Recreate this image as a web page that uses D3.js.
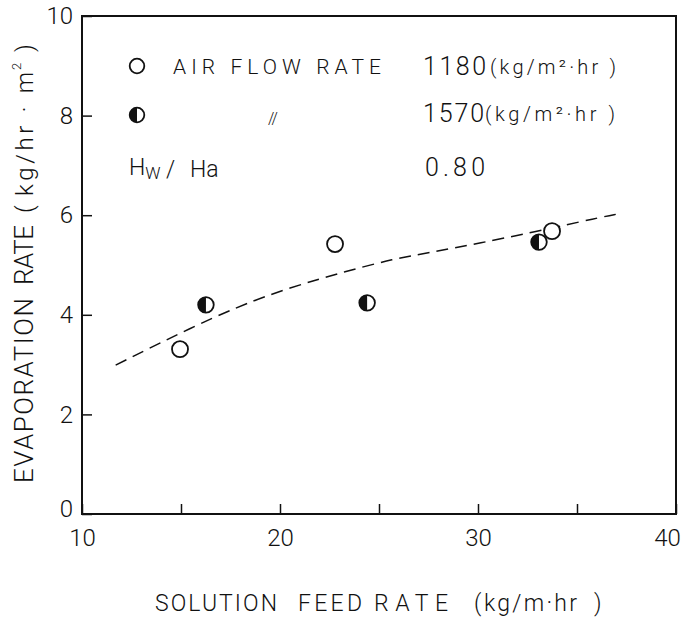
<!DOCTYPE html>
<html>
<head>
<meta charset="utf-8">
<script src="https://cdn.jsdelivr.net/npm/d3@7"></script>
<style>
  body { margin: 0; background: #fff; }
  svg { display: block; }
  text { font-family: Roboto, "Liberation Sans", sans-serif; font-weight: 300; fill: #111; }
</style>
</head>
<body>
<svg id="chart" width="685" height="617"></svg>
<script>
// air flow 1180 kg/m2.hr (open circles)
var lowFeed = [14.95, 22.78, 33.74];
var lowEvap = [3.31, 5.42, 5.68];
// air flow 1570 kg/m2.hr (half filled)
var highFeed = [16.26, 24.4, 33.08];
var highEvap = [4.2, 4.24, 5.46];
// dashed correlation curve
var fitFeed = [11.7, 17.0, 20.4, 23.4, 25.7, 27.7, 30.1, 32.8, 36.2, 37.0];
var fitEvap = [2.99, 4.04, 4.54, 4.88, 5.12, 5.26, 5.44, 5.66, 5.96, 6.02];

var xTicks = [10, 15, 20, 25, 30, 35, 40];
var xTickLabels = ["10", "", "20", "", "30", "", "40"];
var yTicks = [0, 2, 4, 6, 8, 10];

var legendRates = ["1180", "1570"];
var ratioText = "0.80";

var svg = d3.select("#chart"),
    margin = {top: 16, right: 9, bottom: 103, left: 82},
    width = +svg.attr("width") - margin.left - margin.right,
    height = +svg.attr("height") - margin.top - margin.bottom;

var g = svg.append("g").attr("transform", "translate(" + margin.left + "," + margin.top + ")");

var x = d3.scaleLinear().domain([10, 40]).range([0, width]);
var y = d3.scaleLinear().domain([0, 10]).range([height, 0]);

// axes (ticks point inward)
var xAxis = d3.axisBottom(x)
    .tickValues(xTicks)
    .tickSizeInner(-10).tickSizeOuter(0).tickPadding(15)
    .tickFormat(function(d, i) { return xTickLabels[i]; });
var yAxis = d3.axisLeft(y)
    .tickValues(yTicks)
    .tickSizeInner(-10).tickSizeOuter(0).tickPadding(9)
    .tickFormat(d3.format("d"));

var gx = g.append("g")
    .attr("transform", "translate(0," + height + ")")
    .call(xAxis);
var gy = g.append("g").call(yAxis);

[gx, gy].forEach(function(a) {
    a.attr("font-family", null).attr("font-size", 24);
    a.select(".domain").remove();
    a.selectAll(".tick line").attr("stroke", "#111").attr("stroke-width", 1.5);
    a.selectAll(".tick text").attr("fill", "#111");
});
gy.selectAll(".tick text").filter(function(d) { return d === 0; }).attr("dy", "0.1em");
gx.selectAll(".tick text").filter(function(d) { return d === 40; }).attr("dx", -9);

// frame
g.append("rect")
    .attr("width", width)
    .attr("height", height)
    .attr("fill", "none")
    .attr("stroke", "#111")
    .attr("stroke-width", 2);

// dashed curve
var fit = fitFeed.map(function(f, i) { return [f, fitEvap[i]]; });
g.append("path")
    .datum(fit)
    .attr("fill", "none")
    .attr("stroke", "#111")
    .attr("stroke-width", 1.5)
    .attr("stroke-dasharray", "12,7")
    .attr("d", d3.line()
        .x(function(d) { return x(d[0]); })
        .y(function(d) { return y(d[1]); })
        .curve(d3.curveBasis));

var halfArc = d3.arc().innerRadius(0).startAngle(Math.PI).endAngle(2 * Math.PI);

function openMark(sel, r) {
    sel.append("circle").attr("r", r)
        .attr("fill", "#fff").attr("stroke", "#111").attr("stroke-width", 1.8);
}
function halfMark(sel, r) {
    sel.append("circle").attr("r", r)
        .attr("fill", "#fff").attr("stroke", "#111").attr("stroke-width", 1.8);
    sel.append("path").attr("d", halfArc.outerRadius(r)).attr("fill", "#111");
}

var low = lowFeed.map(function(f, i) { return [f, lowEvap[i]]; });
var high = highFeed.map(function(f, i) { return [f, highEvap[i]]; });

g.selectAll(".high")
    .data(high)
    .enter().append("g")
    .attr("class", "high")
    .attr("transform", function(d) { return "translate(" + x(d[0]) + "," + y(d[1]) + ")"; })
    .each(function() { halfMark(d3.select(this), 7.8); });

g.selectAll(".low")
    .data(low)
    .enter().append("g")
    .attr("class", "low")
    .attr("transform", function(d) { return "translate(" + x(d[0]) + "," + y(d[1]) + ")"; })
    .each(function() { openMark(d3.select(this), 8); });

// text helper: stretch text between x0 and x1
function label(parent, str, x0, x1, yy, size) {
    return parent.append("text")
        .attr("x", x0).attr("y", yy)
        .attr("font-size", size)
        .attr("textLength", x1 - x0)
        .attr("lengthAdjust", "spacing")
        .text(str);
}

// legend
openMark(svg.append("g").attr("transform", "translate(137,66)"), 7.3);
halfMark(svg.append("g").attr("transform", "translate(137,115)"), 7.3);

label(svg, "AIR FLOW RATE", 173, 381, 74, 21);
label(svg, legendRates[0], 423, 486, 75, 25);
label(svg, "(kg/m²·hr )", 490, 616, 74, 20);
svg.append("text").attr("x", 268).attr("y", 124)
    .attr("font-size", 16).attr("letter-spacing", -1).text("//");
label(svg, legendRates[1], 423, 484, 122, 25);
label(svg, "(kg/m²·hr )", 485, 615, 121, 20);

var hw = svg.append("text").attr("x", 129).attr("y", 175).attr("font-size", 23);
hw.append("tspan").text("H");
hw.append("tspan").attr("font-size", 17).attr("dy", 4).text("W");
hw.append("tspan").attr("x", 166).attr("dy", -2).text("/");
hw.append("tspan").attr("x", 190).text("Ha");
label(svg, ratioText, 425, 485, 176, 25);

// x title
label(svg, "SOLUTION", 155, 277, 611, 23);
label(svg, "FEED", 298, 362, 611, 23);
label(svg, "RATE", 374, 448, 611, 23);
label(svg, "(", 474, 482, 611, 23);
label(svg, "kg/m·hr", 484, 577, 611, 23);
label(svg, ")", 594, 602, 611, 23);

// y title (rotated)
var yt = svg.append("g").attr("transform", "translate(33,0) rotate(-90)");
label(yt, "EVAPORATION", -483, -298, 0, 26);
label(yt, "RATE", -285, -225, 0, 26);
label(yt, "(", -213, -203, 0, 24);
label(yt, "kg/hr · m", -196, -72, 0, 24);
yt.append("text").attr("x", -70).attr("y", -12).attr("font-size", 13).text("2");
label(yt, ")", -52, -42, 0, 24);
</script>
</body>
</html>
